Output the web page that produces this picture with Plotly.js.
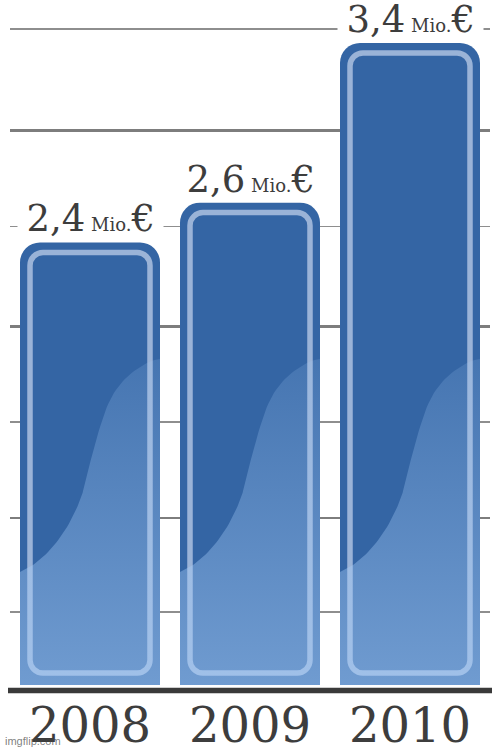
<!DOCTYPE html>
<html><head><meta charset="utf-8">
<script src="https://cdn.plot.ly/plotly-3.0.1.min.js"></script>
<style>html,body{margin:0;padding:0;background:#fff}</style>
</head><body>
<div id="chart" style="width:500px;height:750px"></div>
<script>
// ---- data ----
const years = ['2008', '2009', '2010'];
const revenue = [2.4, 2.6, 3.4];          // Mio. €
const unitLabel = 'Mio.';
const currency = '€';
const majorGrid = [1.02, 1.98, 2.96];      // thick grid lines (axis units)
const minorGrid = [0.55, 1.50, 2.48, 3.47];// thin grid lines (axis units)

// ---- geometry / style ----
const W = 500, H = 750, M = {l: 10, r: 10, t: 10, b: 65};
const plotH = H - M.t - M.b;
const yMin = 0.183, pxPerUnit = 199.6;
const yMax = yMin + plotH / pxPerUnit;
const px = p => p / pxPerUnit;                       // pixel length -> axis units
const yAt = py => yMin + (H - M.b - py) / pxPerUnit; // page pixel -> axis units (decoration)
const barW = 0.875, innerW = 0.75;
const innerBase = yMin + px(12);
const textColor = '#3d3d3d';
const serif = 'DejaVu Serif';

// gloss (light wave) profile: [fraction of bar width, page pixel y]
const glossProfile = [[0,572],[0.093,565],[0.214,550],[0.336,527],[0.43,500],[0.464,483],
  [0.55,437],[0.643,400],[0.764,377],[0.907,363],[1,359]];

function catmull(pts, n) {
  const out = [];
  for (let i = 0; i < pts.length - 1; i++) {
    const p0 = pts[Math.max(0, i - 1)], p1 = pts[i], p2 = pts[i + 1], p3 = pts[Math.min(pts.length - 1, i + 2)];
    for (let k = 0; k < n; k++) {
      const t = k / n, t2 = t * t, t3 = t2 * t;
      const f = (a, b, c, d) => 0.5 * ((2 * b) + (-a + c) * t + (2 * a - 5 * b + 4 * c - d) * t2 + (-a + 3 * b - 3 * c + d) * t3);
      out.push([f(p0[0], p1[0], p2[0], p3[0]), f(p0[1], p1[1], p2[1], p3[1])]);
    }
  }
  out.push(pts[pts.length - 1]);
  return out;
}
const glossCurve = catmull(glossProfile, 8);

const fmt = v => v.toFixed(1).replace('.', ',');

const traces = [
  {
    type: 'bar', x: years, y: revenue, width: barW,
    marker: {color: '#3465a4', cornerradius: 20, line: {width: 0}},
    hoverinfo: 'skip'
  },
  {
    type: 'bar', x: years, base: revenue.map(() => innerBase),
    y: revenue.map(v => v - px(10) - innerBase), width: innerW,
    marker: {color: 'rgba(0,0,0,0)', cornerradius: 13, line: {color: '#9ab3d7', width: 5.5}},
    hoverinfo: 'skip'
  }
];

years.forEach((yr, i) => {
  const left = i - barW / 2;
  const xs = glossCurve.map(p => left + p[0] * barW);
  const ys = glossCurve.map(p => yAt(p[1]));
  xs.push(left + barW, left);
  ys.push(yMin - 0.1, yMin - 0.1);
  traces.push({
    type: 'scatter', mode: 'lines', xaxis: 'x2', yaxis: 'y',
    x: xs, y: ys, fill: 'toself', line: {width: 0, color: 'rgba(0,0,0,0)'},
    fillgradient: {type: 'vertical', colorscale: [[0, 'rgba(165,204,248,0.55)'], [1, 'rgba(165,204,248,0.16)']]},
    hoverinfo: 'skip'
  });
});

const annotations = years.map((yr, i) => ({
  x: i, y: revenue[i], xref: 'x2', yref: 'y', yanchor: 'bottom', xanchor: 'center', showarrow: false,
  text: '\u2009' + fmt(revenue[i]) + '<span style="font-size:18px">\u00a0' + unitLabel + '</span>' + currency + '\u2009',
  font: {family: serif, size: 37, color: textColor},
  bgcolor: '#ffffff', borderpad: 1
}));
annotations.push({
  xref: 'paper', yref: 'paper', x: (3 - M.l) / (W - M.l - M.r), y: -(741 - (H - M.b)) / plotH,
  xanchor: 'left', yanchor: 'middle', showarrow: false, text: 'imgflip.com',
  font: {family: 'Liberation Sans', size: 11, color: 'rgba(70,70,70,0.7)'}
});

const layout = {
  width: W, height: H, margin: M, paper_bgcolor: '#ffffff', plot_bgcolor: '#ffffff',
  showlegend: false, barmode: 'overlay',
  xaxis: {type: 'category', range: [-0.5, 2.5], showgrid: false, zeroline: false, showline: false,
    ticks: '', ticklabelstandoff: 8, tickfont: {family: serif, size: 48, color: textColor}},
  xaxis2: {overlaying: 'x', type: 'linear', range: [-0.5, 2.5], visible: false},
  yaxis: {range: [yMin, yMax], tickmode: 'array', tickvals: majorGrid, showticklabels: false, ticks: '',
    showgrid: true, gridcolor: '#7d7d7d', gridwidth: 2.6, zeroline: false, showline: false,
    minor: {tickmode: 'array', tickvals: minorGrid, showgrid: true, gridcolor: '#8e8e8e', gridwidth: 1.5, ticks: ''}},
  shapes: [{type: 'line', xref: 'paper', yref: 'paper', x0: -2 / 480, x1: 1 + 2 / 480,
    y0: -5.5 / plotH, y1: -5.5 / plotH, line: {color: '#3a3a3a', width: 5.5}}],
  annotations: annotations
};

Plotly.newPlot('chart', traces, layout, {staticPlot: true, displayModeBar: false});
</script>
</body></html>
